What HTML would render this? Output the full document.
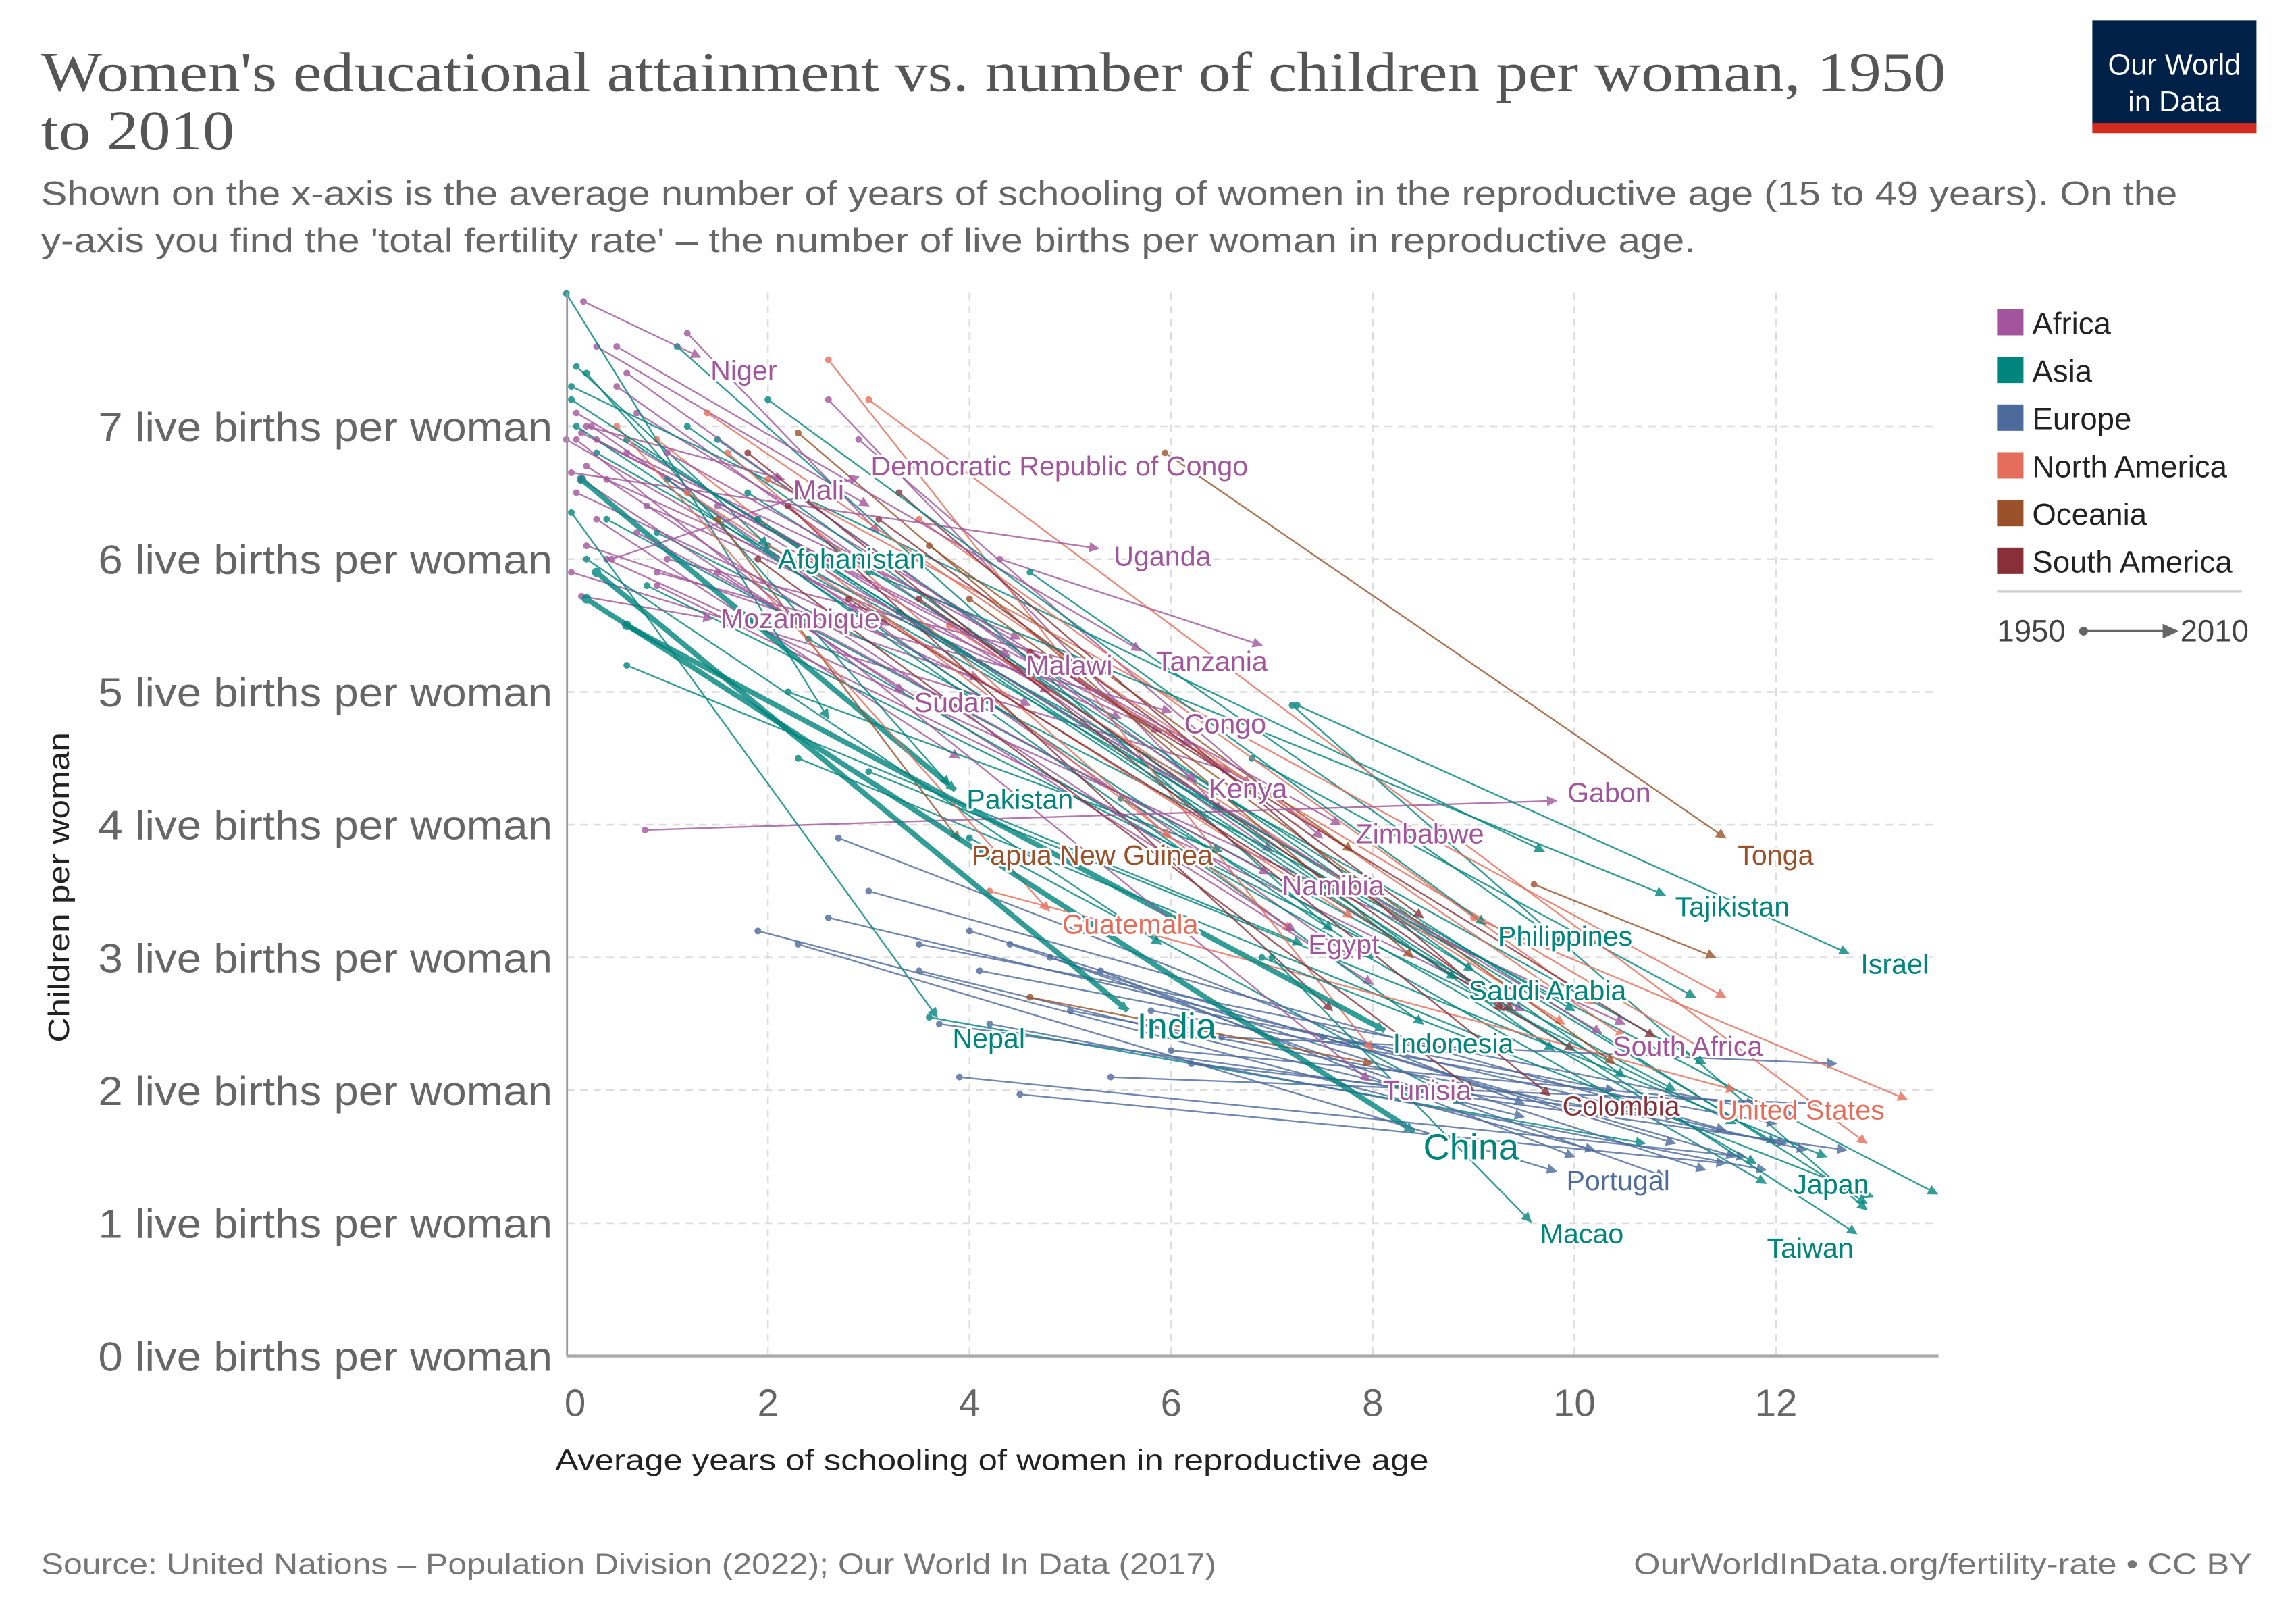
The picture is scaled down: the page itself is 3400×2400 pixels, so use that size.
<!DOCTYPE html>
<html><head><meta charset="utf-8"><style>
html,body{margin:0;padding:0;background:#fff}
svg{display:block}
text{font-family:"Liberation Sans",sans-serif}
.lbl{paint-order:stroke;stroke:#fff;stroke-width:3px;stroke-linejoin:round}
</style></head><body>
<svg id="chart" width="3400" height="2400" viewBox="0 0 1567 1107" preserveAspectRatio="none" xmlns="http://www.w3.org/2000/svg">
<defs id="defs"></defs>
<text x="28" y="62" font-size="38" fill="#555" textLength="1300" lengthAdjust="spacingAndGlyphs" style="font-family:'Liberation Serif',serif">Women's educational attainment vs. number of children per woman, 1950</text>
<text x="28" y="102" font-size="38" fill="#555" textLength="132" lengthAdjust="spacingAndGlyphs" style="font-family:'Liberation Serif',serif">to 2010</text>
<text x="28" y="140" font-size="23" fill="#666" textLength="1458" lengthAdjust="spacingAndGlyphs">Shown on the x-axis is the average number of years of schooling of women in the reproductive age (15 to 49 years). On the</text>
<text x="28" y="172" font-size="23" fill="#666" textLength="1129" lengthAdjust="spacingAndGlyphs">y-axis you find the 'total fertility rate' – the number of live births per woman in reproductive age.</text>
<g>
<rect x="1428" y="14" width="112" height="72" fill="#002147"/>
<rect x="1428" y="84" width="112" height="7" fill="#d42b21"/>
<text x="1484" y="51" text-anchor="middle" font-size="20" fill="#fff">Our World</text>
<text x="1484" y="76" text-anchor="middle" font-size="20" fill="#fff">in Data</text>
</g>
<g id="grid"></g>
<g id="marks"></g>
<g id="labels"></g>
<g id="axes"></g>
<text transform="translate(47,606) rotate(-90)" text-anchor="middle" font-size="20" fill="#222" textLength="212" lengthAdjust="spacingAndGlyphs">Children per woman</text>
<text x="379" y="1004" font-size="20" fill="#222" textLength="596" lengthAdjust="spacingAndGlyphs">Average years of schooling of women in reproductive age</text>
<text x="28" y="1075" font-size="20" fill="#777" textLength="802" lengthAdjust="spacingAndGlyphs">Source: United Nations – Population Division (2022); Our World In Data (2017)</text>
<text x="1115" y="1075" font-size="20" fill="#777" textLength="422" lengthAdjust="spacingAndGlyphs">OurWorldInData.org/fertility-rate • CC BY</text>
<g id="legend"></g>
</svg>
<script>
const regions = ["Africa","Asia","Europe","North America","Oceania","South America"];
const regionColors = ["#a2559c","#00847e","#4c6a9c","#e56e5a","#9a5129","#883039"];
const xTicks = [0,2,4,6,8,10,12];
const yTicks = [0,1,2,3,4,5,6,7];
const yTickLabels = ["0 live births per woman","1 live births per woman","2 live births per woman","3 live births per woman","4 live births per woman","5 live births per woman","6 live births per woman","7 live births per woman"];

// labeled countries
const labNames = ["Niger","Mali","Democratic Republic of Congo","Uganda","Afghanistan","Mozambique","Tanzania","Malawi","Sudan","Congo","Kenya","Gabon","Pakistan","Zimbabwe","Papua New Guinea","Tonga","Namibia","Tajikistan","Guatemala","Egypt","Philippines","Israel","Saudi Arabia","India","Nepal","Indonesia","South Africa","Tunisia","Colombia","United States","China","Portugal","Japan","Macao","Taiwan"];
const labRegion = [0,0,0,0,1,0,0,0,0,0,0,0,1,0,4,4,0,1,3,0,1,1,1,1,1,1,0,0,5,3,1,2,1,1,1];
const labX1950 = [0.17,0.2,0.45,0.05,0.1,0.15,0.5,0.3,0.15,0.9,0.6,0.78,0.15,1.0,1.5,5.94,0.7,3.0,0.5,0.2,2.0,7.25,0.05,0.3,0.05,0.6,1.5,0.1,1.8,9.0,0.2,2.3,6.9,7.0,1.9];
const labY1950 = [7.94,7.0,6.0,6.65,7.45,5.72,7.6,6.9,6.6,5.9,7.4,3.96,6.6,6.8,6.3,6.8,6.2,5.9,7.0,6.7,7.2,4.9,7.2,5.9,6.35,5.5,6.4,6.9,6.8,3.3,5.7,3.1,3.0,3.0,6.3];
const labX2010 = [1.33,2.16,2.9,5.28,2.0,1.45,5.7,4.4,3.35,6.0,6.25,9.82,3.86,7.68,3.9,11.5,6.97,10.9,4.79,7.23,9.12,12.72,8.83,5.57,3.68,8.12,10.27,7.97,9.76,13.3,8.41,9.82,12.96,9.57,12.8];
const labY2010 = [7.52,6.6,6.62,6.08,6.1,5.55,5.31,5.27,5.0,4.85,4.33,4.18,4.26,4.0,3.88,3.9,3.63,3.47,3.35,3.2,3.25,3.03,2.84,2.6,2.55,2.45,2.43,2.07,1.96,1.93,1.69,1.39,1.2,1.01,0.92];
const labTextX = [1.43,2.25,3.02,5.43,2.10,1.53,5.85,4.56,3.45,6.13,6.37,9.93,3.97,7.83,4.02,11.62,7.1,11.0,4.92,7.36,9.24,12.84,8.95,5.66,3.83,8.2,10.38,8.1,9.88,11.42,8.5,9.92,12.17,9.66,11.91];
const labTextY = [7.35,6.45,6.63,5.95,5.93,5.48,5.16,5.13,4.85,4.69,4.2,4.17,4.12,3.86,3.7,3.7,3.47,3.31,3.18,3.03,3.09,2.88,2.68,2.39,2.32,2.28,2.26,1.93,1.81,1.78,1.48,1.25,1.22,0.85,0.74];
const thickCountries = ["India","China","Pakistan","Indonesia"];

// unlabeled countries: [x1950, y1950, x2010, y2010]
const africaOther = [[0.0,6.9,3.2,5.5],[0.1,6.5,4.6,4.9],[0.3,7.6,3.0,6.4],[0.4,6.6,5.9,4.7],[0.2,6.1,4.1,5.1],[0.05,5.9,6.6,4.4],[0.6,6.8,4.5,5.4],[1.0,6.0,5.2,5.2],[0.3,6.3,3.9,4.5],[0.15,6.95,6.2,4.6],[2.6,7.2,6.5,4.1],[1.2,7.7,3.1,6.2],[0.5,7.3,7.0,3.8],[0.8,6.4,5.5,4.8],[0.25,7.0,2.9,5.6],[1.5,5.9,8.0,2.8],[0.9,5.8,9.5,2.6],[0.1,7.1,4.8,5.0],[2.9,6.9,7.5,3.9],[0.4,6.0,10.5,2.5],[3.1,5.5,7.8,3.0],[0.7,7.1,6.8,4.3],[4.3,6.0,6.9,5.35]];
const asiaOther = [[0.0,8.0,2.6,4.8],[0.2,7.4,3.8,4.3],[0.05,7.3,9.7,3.8],[1.1,7.6,7.6,3.2],[0.6,6.9,9.0,2.9],[0.3,6.8,10.0,2.6],[2.3,4.5,9.4,2.3],[0.6,5.2,7.3,3.1],[1.2,7.0,9.8,2.3],[0.4,6.3,11.0,2.0],[1.8,6.5,12.9,1.15],[3.3,5.6,12.0,1.6],[2.0,6.1,11.3,2.2],[4.6,5.9,9.9,3.1],[7.2,4.9,12.9,1.1],[0.9,6.2,13.6,1.22],[5.5,4.2,11.8,1.45],[3.6,2.55,10.7,1.6],[1.0,6.6,8.5,2.5],[0.2,6.0,5.9,3.1],[2.4,5.4,11.9,1.3],[3.0,4.4,12.5,1.5],[0.8,5.8,11.6,1.75],[4.0,3.9,8.9,1.9],[1.5,6.9,10.5,2.1],[0.1,7.0,8.0,3.0],[2.2,5.0,6.5,3.8],[6.8,4.5,11.2,2.7]];
const europeOther = [[1.9,3.2,10.2,1.55],[3.0,3.5,11.5,1.7],[3.5,3.1,12.2,1.8],[4.0,3.2,11.0,1.6],[2.7,3.9,9.5,1.9],[3.9,2.1,11.7,1.5],[4.5,1.97,11.5,1.45],[5.4,2.1,12.4,1.9],[3.7,2.5,12.7,1.55],[4.2,2.5,11.9,1.4],[4.8,3.0,10.9,1.35],[5.8,2.6,12.0,1.75],[4.1,2.9,10.4,2.0],[6.0,2.3,11.8,1.9],[3.5,2.9,9.5,1.8],[5.0,2.6,12.1,1.6],[6.5,2.4,12.6,2.2],[4.4,3.1,11.3,1.4],[5.3,2.9,10.0,1.5],[2.6,3.3,12.3,1.55],[6.2,2.2,11.0,1.8],[7.5,2.4,11.6,1.5]];
const northAmericaOther = [[2.6,7.5,8.0,2.3],[1.4,7.1,10.5,2.4],[1.6,6.8,6.0,3.9],[2.0,6.6,11.5,2.7],[3.5,6.3,10.2,2.65],[0.9,6.9,7.2,3.2],[4.6,5.3,11.3,2.3],[3.0,7.2,12.9,1.6],[3.8,5.5,9.9,2.5],[4.2,3.5,11.6,2.0],[1.2,6.5,7.8,3.3]];
const oceaniaOther = [[2.3,6.95,8.4,3.0],[9.6,3.55,11.4,3.0],[3.6,6.1,7.8,3.8],[4.0,5.7,10.4,2.2],[4.6,2.7,8.0,2.2]];
const southAmericaOther = [[2.2,6.4,7.6,2.6],[2.8,5.7,10.0,2.3],[3.3,6.5,9.3,2.6],[3.1,6.3,8.5,3.3],[1.9,6.0,9.0,2.0],[4.6,5.3,10.8,2.4],[3.5,5.7,9.4,2.6]];

const NS = "http://www.w3.org/2000/svg";
const X0 = 386.5, XS = 68.8, Y0 = 926, YS = 90.7;
const plotL = 387, plotR = 1323, plotT = 200, plotB = 926;
function xPos(v){ return X0 + v*XS; }
function yPos(v){ return Y0 - v*YS; }
function mk(tag, attrs, parent){ const e=document.createElementNS(NS,tag); for(const k in attrs) e.setAttribute(k,attrs[k]); if(parent) parent.appendChild(e); return e; }

const defs=document.getElementById('defs');
regionColors.forEach((c,i)=>{
  const m=mk('marker',{id:'arr'+i,viewBox:'0 0 10 10',refX:'9',refY:'5',markerWidth:'7',markerHeight:'7',markerUnits:'userSpaceOnUse',orient:'auto'},defs);
  mk('path',{d:'M0,0 L10,5 L0,10 z',fill:c},m);
});

const grid=document.getElementById('grid');
yTicks.forEach(t=>{ if(t===0) return;
  const l=mk('line',{x1:plotL,x2:plotR,y1:yPos(t),y2:yPos(t),stroke:'#ddd','stroke-width':1.2,'stroke-dasharray':'5,4'},grid);
  
  
});
xTicks.forEach(t=>{ if(t===0) return;
  const l=mk('line',{x1:xPos(t),x2:xPos(t),y1:plotT,y2:plotB,stroke:'#ddd','stroke-width':1.2,'stroke-dasharray':'5,4'},grid);
  
  
});

const marks=document.getElementById('marks');
function drawArrow(x0,y0,x1,y1,ri,thick,name){
  const g=mk('g',{opacity:'0.8'},marks);
  
  
  mk('line',{x1:xPos(x0),y1:yPos(y0),x2:xPos(x1),y2:yPos(y1),stroke:regionColors[ri],'stroke-width':thick?3.6:1.1,'marker-end':'url(#arr'+ri+')'},g);
  mk('circle',{cx:xPos(x0),cy:yPos(y0),r:thick?3.2:2.3,fill:regionColors[ri]},g);
}
const others=[africaOther,asiaOther,europeOther,northAmericaOther,oceaniaOther,southAmericaOther];
others.forEach((arr,ri)=>arr.forEach(d=>drawArrow(d[0],d[1],d[2],d[3],ri,false,'country-arrow')));
labNames.forEach((n,i)=>drawArrow(labX1950[i],labY1950[i],labX2010[i],labY2010[i],labRegion[i],thickCountries.includes(n),'arrow-'+n.toLowerCase().replace(/ /g,'-')));

const labels=document.getElementById('labels');
labNames.forEach((n,i)=>{
  const big = (n==="India"||n==="China");
  const t=mk('text',{x:xPos(labTextX[i]),y:yPos(labTextY[i]),'font-size':big?25:19,fill:regionColors[labRegion[i]],class:'lbl'},labels);
  
  
  t.textContent=n;
});

const axes=document.getElementById('axes');
mk('line',{x1:plotL,x2:plotL,y1:plotT,y2:plotB,stroke:'#999','stroke-width':1.3},axes);
mk('line',{x1:plotL,x2:plotR,y1:plotB,y2:plotB,stroke:'#aaa','stroke-width':2},axes);
yTicks.forEach((t,i)=>{
  const e=mk('text',{x:377,y:yPos(t)+10,'text-anchor':'end','font-size':28,fill:'#666',textLength:310,lengthAdjust:'spacingAndGlyphs'},axes);
  
  
  e.textContent=yTickLabels[i];
});
xTicks.forEach(t=>{
  const e=mk('text',{x:xPos(t)+(t===0?6:0),y:967,'text-anchor':'middle','font-size':26,fill:'#666'},axes);
  
  
  e.textContent=String(t);
});

const legend=document.getElementById('legend');
regions.forEach((r,i)=>{
  const g=mk('g',{},legend);
  
  
  const y=211+i*32.6;
  mk('rect',{x:1363,y:y,width:18,height:18,fill:regionColors[i]},g);
  const t=mk('text',{x:1387,y:y+17,'font-size':21,fill:'#222'},g);
  t.textContent=r;
});
mk('line',{x1:1363,x2:1530,y1:404,y2:404,stroke:'#ccc','stroke-width':1.5},legend);
const t1=mk('text',{x:1363,y:438,'font-size':21,fill:'#444'},legend); t1.textContent='1950';
mk('circle',{cx:1422,cy:431,r:3,fill:'#666'},legend);
mk('line',{x1:1422,x2:1478,y1:431,y2:431,stroke:'#666','stroke-width':1.5},legend);
mk('path',{d:'M1476,426 L1487,431 L1476,436 z',fill:'#666'},legend);
const t2=mk('text',{x:1488,y:438,'font-size':21,fill:'#444'},legend); t2.textContent='2010';
</script>
</body></html>
